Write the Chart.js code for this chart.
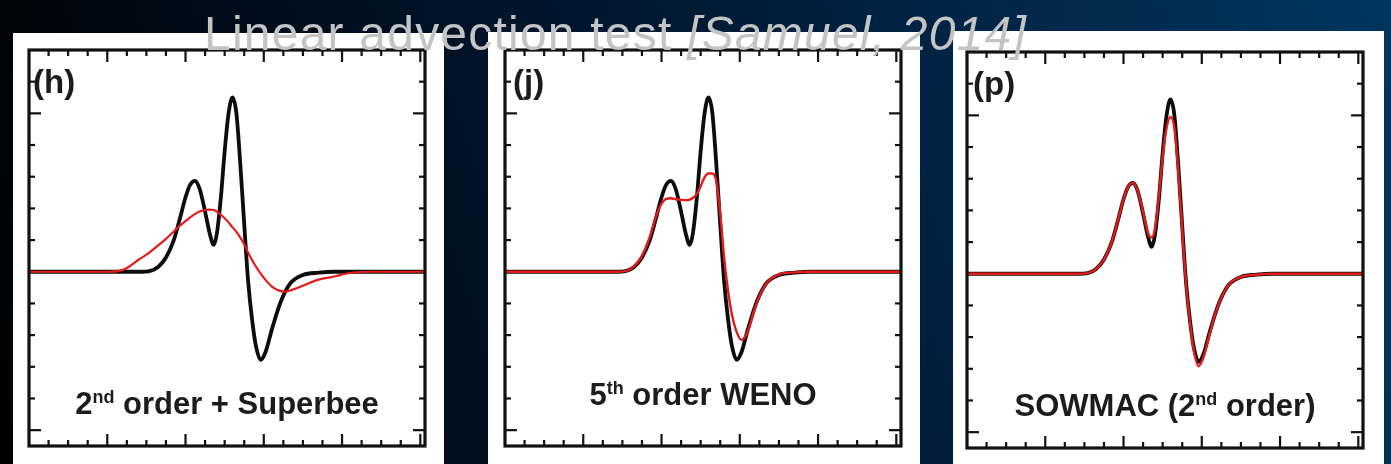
<!DOCTYPE html>
<html>
<head>
<meta charset="utf-8">
<script src="https://cdn.jsdelivr.net/npm/chart.js@4.4.1/dist/chart.umd.min.js"></script>
<style>
  html, body { margin: 0; padding: 0; width: 1391px; height: 464px; overflow: hidden; }
  body {
    position: relative;
    background: linear-gradient(72deg, #000000 0%, #000c1a 25%, #001a36 55%, #00365f 100%);
  }
  .panel { position: absolute; background: #ffffff; }
  .panel canvas { display: block; filter: blur(0.6px); }
  #title {
    position: absolute; left: 204px; top: 10px; z-index: 10;
    color: #c4c4c4; font-family: "Liberation Sans", Arial, sans-serif; font-weight: 400;
    font-size: 48px; line-height: 48px; white-space: nowrap;
  }
</style>
</head>
<body>
<div id="title">Linear advection test <i>[Samuel, 2014]</i></div>
<div class="panel" id="p1" style="left:13px; top:33px; width:431px; height:431px;"><canvas id="c1" width="431" height="431"></canvas></div>
<div class="panel" id="p2" style="left:488px; top:32px; width:432px; height:432px;"><canvas id="c2" width="432" height="432"></canvas></div>
<div class="panel" id="p3" style="left:953px; top:31px; width:431px; height:433px;"><canvas id="c3" width="431" height="433"></canvas></div>
<script>
// ---------- data ----------
const xGrid = [0, 1.0, 1.2, 1.4, 1.55, 1.65, 1.75, 1.85, 1.93, 2.0, 2.06, 2.12, 2.18, 2.25, 2.31, 2.36, 2.40, 2.45, 2.50, 2.55, 2.60, 2.65, 2.70, 2.75, 2.80, 2.85, 2.90, 2.96, 3.02, 3.10, 3.18, 3.26, 3.35, 3.50, 3.70, 3.90, 4.10, 4.40, 5.06];
const exactY = [0, 0, 0, 0, 0.003, 0.015, 0.045, 0.10, 0.17, 0.235, 0.275, 0.287, 0.262, 0.19, 0.12, 0.085, 0.12, 0.23, 0.38, 0.50, 0.55, 0.50, 0.34, 0.15, -0.03, -0.15, -0.235, -0.278, -0.255, -0.185, -0.12, -0.07, -0.033, -0.01, -0.003, 0, 0, 0, 0];
const superbeeY = [0, 0, 0.006, 0.038, 0.063, 0.083, 0.104, 0.127, 0.146, 0.160, 0.172, 0.182, 0.190, 0.195, 0.196, 0.195, 0.190, 0.180, 0.169, 0.156, 0.140, 0.126, 0.108, 0.087, 0.060, 0.037, 0.016, -0.006, -0.025, -0.046, -0.058, -0.063, -0.058, -0.044, -0.025, -0.015, -0.004, 0, 0];
const wenoY = [0, 0, 0, 0, 0.003, 0.017, 0.050, 0.110, 0.175, 0.215, 0.230, 0.232, 0.229, 0.227, 0.226, 0.228, 0.233, 0.245, 0.270, 0.298, 0.310, 0.310, 0.285, 0.185, 0.045, -0.060, -0.135, -0.190, -0.215, -0.190, -0.125, -0.072, -0.034, -0.008, -0.002, 0, 0, 0, 0];
const sowmacY = [0, 0, 0, 0, 0.003, 0.015, 0.045, 0.10, 0.17, 0.235, 0.275, 0.287, 0.262, 0.195, 0.13, 0.115, 0.14, 0.24, 0.37, 0.46, 0.495, 0.46, 0.32, 0.14, -0.035, -0.155, -0.245, -0.292, -0.265, -0.19, -0.12, -0.07, -0.033, -0.01, -0.003, 0, 0, 0, 0];

const xMajorTicks = [1, 2, 3, 4, 5];
const xMinorTicks = [0.25, 0.5, 0.75, 1.25, 1.5, 1.75, 2.25, 2.5, 2.75, 3.25, 3.5, 3.75, 4.25, 4.5, 4.75];
const yMajorTicks = [-0.5, 0, 0.5];
const yMinorTicks = [-0.4, -0.3, -0.2, -0.1, 0.1, 0.2, 0.3, 0.4, 0.6];

const panelLabels = ['(h)', '(j)', '(p)'];
const captionH = [['2', 0], ['nd', 1], [' order + Superbee', 0]];
const captionJ = [['5', 0], ['th', 1], [' order WENO', 0]];
const captionP = [['SOWMAC (2', 0], ['nd', 1], [' order)', 0]];

const xMin = 0, xMax = 5.06, yMin = -0.55, yMax = 0.70;

// ---------- title width fit ----------
const TITLE_LEFT = 204, TITLE_RIGHT = 1027;
function fitTitle() {
  const t = document.getElementById('title');
  t.style.letterSpacing = '0px';
  const w = t.getBoundingClientRect().width;
  const n = t.textContent.length;
  t.style.letterSpacing = ((TITLE_RIGHT - TITLE_LEFT - w) / n).toFixed(2) + 'px';
}
fitTitle();
if (document.fonts && document.fonts.ready) document.fonts.ready.then(fitTitle);

// ---------- drawing helpers ----------
const FONT = '"Liberation Sans", Arial, Helvetica, sans-serif';

function drawRich(ctx, segs, cx, baseline, size) {
  const big = `bold ${size}px ${FONT}`;
  const small = `bold ${Math.round(size * 0.58)}px ${FONT}`;
  let total = 0;
  segs.forEach(s => { ctx.font = s[1] ? small : big; total += ctx.measureText(s[0]).width; });
  let xx = cx - total / 2;
  ctx.textAlign = 'left';
  ctx.textBaseline = 'alphabetic';
  segs.forEach(s => {
    ctx.font = s[1] ? small : big;
    ctx.fillText(s[0], xx, s[1] ? baseline - size * 0.36 : baseline);
    xx += ctx.measureText(s[0]).width;
  });
}

const framePlugin = {
  id: 'frame',
  beforeDatasetsDraw(chart) {
    const { ctx, chartArea: a, scales: { x, y } } = chart;
    ctx.save();
    ctx.strokeStyle = '#111';
    ctx.lineWidth = 2.2;
    const seg = (x1, y1, x2, y2) => { ctx.beginPath(); ctx.moveTo(x1, y1); ctx.lineTo(x2, y2); ctx.stroke(); };
    const MAJ = 12, MIN = 6;
    xMajorTicks.forEach(v => { const p = x.getPixelForValue(v); seg(p, a.top, p, a.top + MAJ); seg(p, a.bottom, p, a.bottom - MAJ); });
    xMinorTicks.forEach(v => { const p = x.getPixelForValue(v); seg(p, a.top, p, a.top + MIN); seg(p, a.bottom, p, a.bottom - MIN); });
    yMajorTicks.forEach(v => { const p = y.getPixelForValue(v); seg(a.left, p, a.left + MAJ, p); seg(a.right, p, a.right - MAJ, p); });
    yMinorTicks.forEach(v => { const p = y.getPixelForValue(v); seg(a.left, p, a.left + MIN, p); seg(a.right, p, a.right - MIN, p); });
    ctx.restore();
  },
  afterDatasetsDraw(chart, args, opts) {
    const { ctx, chartArea: a } = chart;
    ctx.save();
    ctx.strokeStyle = '#111';
    ctx.lineWidth = 3.2;
    ctx.strokeRect(a.left, a.top, a.right - a.left, a.bottom - a.top);
    ctx.fillStyle = '#1c1c1c';
    ctx.font = `bold 33px ${FONT}`;
    ctx.textAlign = 'left';
    ctx.textBaseline = 'alphabetic';
    ctx.fillText(opts.label, a.left + opts.labelDx, a.top + 43);
    drawRich(ctx, opts.caption, (a.left + a.right) / 2, a.bottom - opts.captionDy, 31);
    ctx.restore();
  }
};

function makePanel(canvasId, redY, label, caption, pad, labelDx, captionDy, redWidth) {
  const black = xGrid.map((v, i) => ({ x: v, y: exactY[i] }));
  const red = xGrid.map((v, i) => ({ x: v, y: redY[i] }));
  new Chart(document.getElementById(canvasId), {
    type: 'line',
    data: {
      datasets: [
        { data: black, borderColor: '#0d0d0d', borderWidth: 3.8, order: 2 },
        { data: red, borderColor: '#e41b1b', borderWidth: redWidth, order: 1 }
      ]
    },
    options: {
      responsive: false,
      animation: false,
      events: [],
      layout: { padding: pad },
      elements: { point: { radius: 0 }, line: { cubicInterpolationMode: 'monotone', fill: false } },
      plugins: {
        legend: { display: false },
        tooltip: { enabled: false },
        frame: { label: label, caption: caption, labelDx: labelDx, captionDy: captionDy }
      },
      scales: {
        x: { type: 'linear', min: xMin, max: xMax, display: false },
        y: { type: 'linear', min: yMin, max: yMax, display: false }
      }
    },
    plugins: [framePlugin]
  });
}

makePanel('c1', superbeeY, panelLabels[0], captionH, { left: 16, right: 19, top: 17, bottom: 18 }, 4, 32, 2.2);
makePanel('c2', wenoY, panelLabels[1], captionJ, { left: 17, right: 19, top: 18, bottom: 18 }, 8, 41, 2.4);
makePanel('c3', sowmacY, panelLabels[2], captionP, { left: 14, right: 21, top: 21, bottom: 16 }, 6, 32, 2.4);
</script>
</body>
</html>
